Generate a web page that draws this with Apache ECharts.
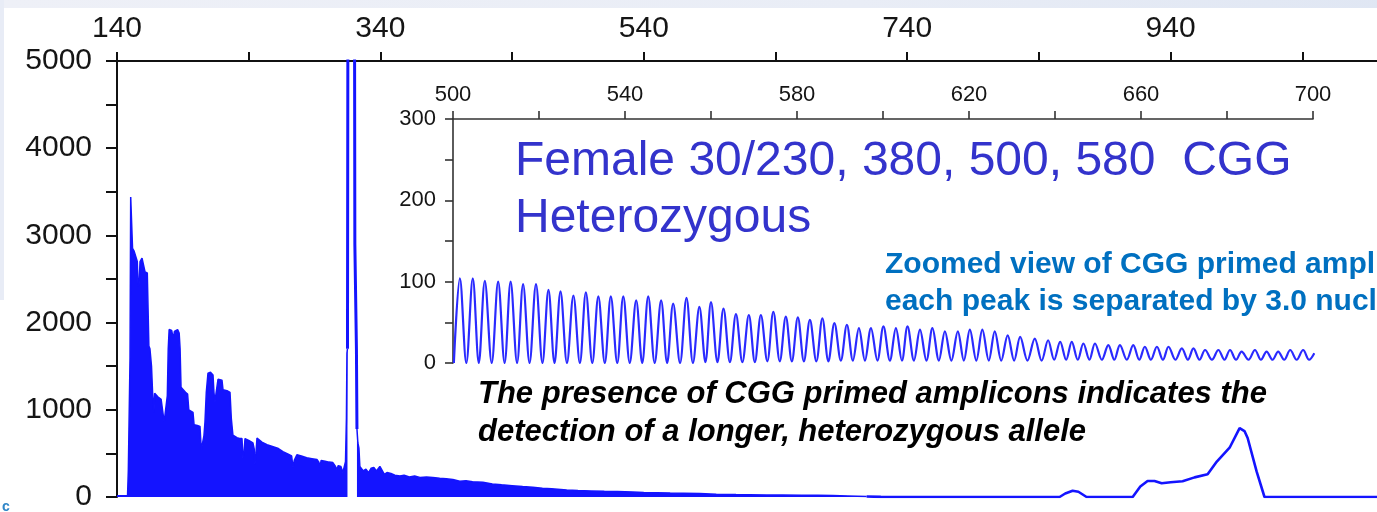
<!DOCTYPE html>
<html>
<head>
<meta charset="utf-8">
<script src="https://cdn.jsdelivr.net/npm/echarts@6/dist/echarts.min.js"></script>
<style>
html,body{margin:0;padding:0;background:#fff;overflow:hidden;width:1377px;height:512px;}
#c{width:1434px;height:512px;}
</style>
</head>
<body>
<div id="c"></div>
<script>
// ---- main electropherogram: dense signal envelope (size, RFU) ----
var mainAreaX = [140,148.0,148.6,149.2,149.9,150.4,151.2,151.8,153.0,154.5,155.4,156.0,156.8,157.5,159.0,160.5,161.3,163.0,163.8,164.2,165.0,166.2,167.0,167.6,168.0,168.6,171.0,173.5,174.9,175.8,176.6,178.2,178.9,179.6,181.5,182.8,183.6,186.0,187.2,187.9,188.6,190.0,192.0,193.6,194.5,196.0,197.7,198.5,201.0,203.0,204.0,205.0,206.0,206.8,207.8,209.1,211.0,212.9,213.6,214.4,215.3,216.7,219.7,220.5,223.5,225.8,226.8,228.0,231.1,233.0,234.9,235.6,236.4,237.2,240.0,243.2,244.2,244.7,245.5,246.3,250.0,253.9,258.0,262.0,266.0,270.0,272.6,273.6,274.6,276.6,280.0,284.0,288.0,291.8,293.3,294.1,295.0,298.0,301.0,303.9,305.5,307.0,308.0,310.0,310.8,311.5,312.5,313.5,314.2,314.6,315.0,
  null,
  322.2,322.9,323.7,324.4,325.5,327.0,329.0,331.0,333.0,335.0,337.0,339.6,341.0,343.0,345.0,348.0,351.0,354.8,358.0,362.0,366.0,370.0,375.0,379.8,385.0,390.0,395.0,400.3,405.0,410.0,417.8,425.0,432.0,440.0,448.0,455.7,463.0,470.0,481.5,490.0,500.0,510.0,520.0,531.6,540.0,550.0,560.0,570.0,582.5,595.0,610.0,620.0,633.3,645.0,660.0,672.0,683.4,695.0,709.2];
var mainAreaY = [15,15,300,900,1600,3440,3440,2850,2820,2800,2700,2420,2450,2700,2740,2740,2580,2570,2550,1730,1700,1500,1200,1180,970,1190,1150,1120,1120,860,880,1160,1700,1920,1910,1810,1900,1920,1880,1700,1260,1240,1200,1180,1000,980,970,830,820,810,540,520,700,860,1200,1420,1430,1400,1200,1090,1200,1350,1340,1230,1220,1200,900,710,680,670,670,450,500,670,650,620,550,372,500,677,630,600,580,560,520,490,470,340,420,485,470,450,440,430,400,340,420,410,400,395,360,316,360,350,350,282,300,406,900,1650,1700,
  null,
  780,620,560,350,330,300,320,280,330,340,300,350,330,260,280,270,250,240,250,230,240,225,230,225,215,210,200,180,185,175,170,150,140,130,120,113,100,95,80,75,70,65,62,57,52,50,45,43,40,32,28,26,23,22,20,20,18,12,5];

// ---- the saturated main peak (off scale) ----
var bigPeakX = [315.0,315.3,316.0,317.5,319.5,320.4,320.6,321.8,322.2];
var bigPeakY = [1700,5200,8000,9000,8000,5100,2900,1700,780];

// ---- low tail with the CGG-primed allele peaks ----
var tailX = [709.2,720,740,780,820,855.7,860.0,865.6,870.0,876.2,911.2,917.0,922.5,927.8,933.2,940.0,949.1,958.2,968.1,975.1,984.8,992.4,996.1,998.5,1005.3,1011.3,1050,1140];
var tailY = [5,2,0,0,0,0,40,71,60,0,0,120,184,184,158,170,180,225,260,406,565,790,756,677,293,0,0,0];

// ---- zoomed inset: CGG repeat peaks (size 500-700) ----
var insetPeakX = [501.6,504.6,507.4,510.5,513.4,516.3,519.3,522.2,525.0,528.0,530.9,533.8,536.7,539.6,542.6,545.4,548.4,551.2,554.3,557.3,560.0,562.9,565.8,
  568.8,571.6,574.5,577.4,580.2,583.0,585.9,588.7,591.6,594.4,597.2,600.1,603.0,605.7,608.6,611.5,614.4,617.4,620.2,623.1,626.0,629.0,631.9,
  635.3,638.4,641.2,643.9,646.6,649.3,652.4,655.1,658.2,660.9,663.7,666.4,669.5,672.2,674.9,678.0,680.7,683.4,686.5,689.2,691.9,694.7,697.7];
var insetPeakY = [104,104,101,100,100,97,97,90,88,83,87,82,82,82,77,82,77,73,80,69,75,67,60,
  59,59,63,57,56,53,55,49,47,43,43,45,43,45,41,43,39,39,41,41,39,34,32,
  30,28,26,26,24,24,22,22,22,20,20,20,18,18,16,16,16,14,16,14,14,16,16];
var insetTroughX = [500.2,503.1,506.0,509.0,512.0,514.9,517.8,520.8,523.6,526.5,529.5,532.4,535.3,538.2,541.1,544.0,546.9,549.8,552.8,555.8,558.7,561.5,564.4,567.3,570.2,573.1,576.0,578.8,581.6,584.5,587.3,590.2,593.0,595.8,598.7,601.6,604.4,607.2,610.1,613.0,615.9,618.8,621.7,624.6,627.5,630.5,633.6,636.9,639.8,642.6,645.3,648.0,650.9,653.8,656.7,659.6,662.3,665.1,668.0,670.9,673.6,676.5,679.4,682.1,685.0,687.9,690.6,693.3,696.2,699.1];
var insetTroughY = [0,0,0,0,0,0,0,0,0,0,0,0,0,0,0,0,0,0,0,0,1,1,1,1,1,2,2,2,2,2,2,3,3,3,3,3,3,3,3,3,3,3,3,3,3,3,3,3,4,4,4,4,4,4,4,4,4,4,4,4,4,4,4,4,4,4,4,4,4,4];
var insetEnd = [700.3, 12];

// ---- axis ticks ----
var mainXTicks = {min:140, max:1140, interval:200};
var mainYTicks = {min:0, max:5000, interval:1000};
var insetXTicks = {min:500, max:700, interval:40};
var insetYTicks = {min:0, max:300, interval:100};

// ---- texts ----
var titleLines = ['Female 30/230, 380, 500, 580  CGG', 'Heterozygous'];
var noteLines = ['Zoomed view of CGG primed amplicons;', 'each peak is separated by 3.0 nucleotides'];
var italicLines = ['The presence of CGG primed amplicons indicates the', 'detection of a longer, heterozygous allele'];

function pairs(xs, ys){ var o=[]; for(var i=0;i<xs.length;i++){ o.push([xs[i],ys[i]]); } return o; }
var mainArea = []; for (var i=0;i<mainAreaX.length;i++){ mainArea.push(mainAreaX[i]===null ? '-' : [mainAreaX[i], mainAreaY[i]]); }
var insetData = [];
for (var j=0;j<insetTroughX.length;j++){
  insetData.push([insetTroughX[j], insetTroughY[j]]);
  if (j < insetPeakX.length) insetData.push([insetPeakX[j], insetPeakY[j]]);
}
insetData.push(insetEnd);

var BLUE = '#1414ff';
var FONT = '"Liberation Sans", Arial, sans-serif';
function axisCommon(fs, margin, tickLen, lw, color, showMax){
  return {
    axisLine:{show:true, onZero:false, lineStyle:{color:color, width:lw}},
    axisTick:{show:true, length:tickLen, lineStyle:{color:color, width:lw}},
    minorTick:{show:true, splitNumber:2, length:tickLen, lineStyle:{color:color, width:lw}},
    splitLine:{show:false},
    axisLabel:{color:'#151515', fontSize:fs, fontFamily:FONT, margin:margin, showMaxLabel:showMax,
      formatter:function(v){ return String(v); }}
  };
}
function merge(a,b){ for (var k in b) a[k]=b[k]; return a; }

var chart = echarts.init(document.getElementById('c'), null, {renderer:'canvas'});
var option = {
  animation:false,
  backgroundColor:'#ffffff',
  grid:[
    {left:117, top:61, right:0, bottom:9},
    {left:453, top:119, width:860, height:244}
  ],
  xAxis:[
    merge({gridIndex:0, type:'value', position:'top', min:mainXTicks.min, max:mainXTicks.max, interval:mainXTicks.interval}, axisCommon(30,17,9,2,'#111',false)),
    merge({gridIndex:1, type:'value', position:'top', min:insetXTicks.min, max:insetXTicks.max, interval:insetXTicks.interval}, axisCommon(22,13,8,1.6,'#333',true))
  ],
  yAxis:[
    merge({gridIndex:0, type:'value', position:'left', min:mainYTicks.min, max:mainYTicks.max, interval:mainYTicks.interval}, axisCommon(30,25,11,2,'#111',true)),
    merge({gridIndex:1, type:'value', position:'left', min:insetYTicks.min, max:insetYTicks.max, interval:insetYTicks.interval}, axisCommon(22,17,8,1.6,'#333',true))
  ],
  series:[
    {type:'line', xAxisIndex:0, yAxisIndex:0, data:mainArea, symbol:'none', connectNulls:false, clip:true,
      lineStyle:{color:BLUE, width:1.5}, areaStyle:{color:BLUE, opacity:1}},
    {type:'line', xAxisIndex:0, yAxisIndex:0, data:pairs(bigPeakX,bigPeakY), symbol:'none', clip:true,
      lineStyle:{color:BLUE, width:3}},
    {type:'line', xAxisIndex:0, yAxisIndex:0, data:pairs(tailX,tailY), symbol:'none', clip:true,
      lineStyle:{color:BLUE, width:2.6}},
    {type:'line', xAxisIndex:1, yAxisIndex:1, data:insetData, symbol:'none', clip:true, smooth:0.35,
      lineStyle:{color:'#2a2aff', width:2.2}}
  ],
  graphic:[
    {type:'rect', shape:{x:0,y:0,width:1434,height:8}, style:{fill:new echarts.graphic.LinearGradient(0,0,1,0,[{offset:0,color:'#eef0f7'},{offset:0.6,color:'#e9edf6'},{offset:1,color:'#dfe6f3'}])}, silent:true, z:-1},
    {type:'rect', shape:{x:0,y:0,width:4,height:300}, style:{fill:'#e8ecf6'}, silent:true, z:-1},
    {type:'text', x:515, y:161.4, style:{text:titleLines[0], font:'48px '+FONT, fill:'#3333cc', verticalAlign:'middle'}},
    {type:'text', x:515, y:218.4, style:{text:titleLines[1], font:'48px '+FONT, fill:'#3333cc', verticalAlign:'middle'}},
    {type:'text', x:885, y:264.6, style:{text:noteLines[0], font:'bold 30px '+FONT, fill:'#0070c0', verticalAlign:'middle'}},
    {type:'text', x:885, y:301.6, style:{text:noteLines[1], font:'bold 30px '+FONT, fill:'#0070c0', verticalAlign:'middle'}},
    {type:'text', x:478, y:394.3, style:{text:italicLines[0], font:'italic bold 31px '+FONT, fill:'#000', verticalAlign:'middle'}},
    {type:'text', x:478, y:432.3, style:{text:italicLines[1], font:'italic bold 31px '+FONT, fill:'#000', verticalAlign:'middle'}},
    {type:'text', x:2, y:507, style:{text:'c', font:'bold 14px '+FONT, fill:'#2f86c8', verticalAlign:'middle'}}
  ]
};
chart.setOption(option);
</script>
</body>
</html>
